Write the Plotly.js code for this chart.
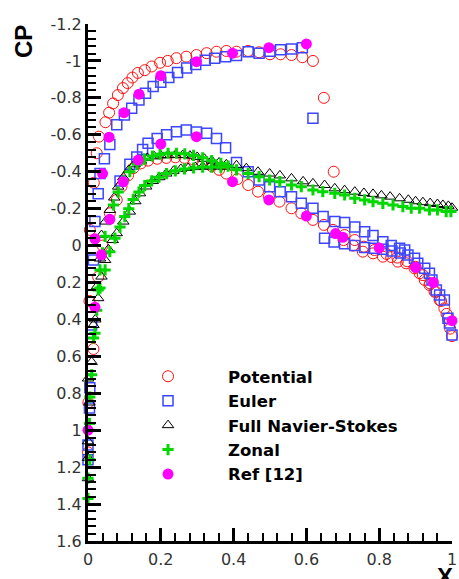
<!DOCTYPE html>
<html>
<head>
<meta charset="utf-8">
<script src="https://cdn.plot.ly/plotly-3.0.1.min.js"></script>
<style>
html,body{margin:0;padding:0;background:#fff;}
#chart{width:459px;height:579px;}
</style>
</head>
<body>
<div id="chart"></div>
<script>
// ---------- Data (x/c, Cp) ----------
// Potential
var potX = [0.000,0.001,0.004,0.005,0.016,0.024,0.030,0.048,0.058,0.069,0.082,0.096,0.109,0.122,0.137,0.156,0.175,0.198,0.219,0.243,0.270,0.298,0.326,0.353,0.380,0.408,0.440,0.470,0.500,0.529,0.559,0.589,0.618,0.648,0.675,0.702,0.728,0.755,0.783,0.810,0.833,0.851,0.874,0.897,0.911,0.925,0.938,0.952,0.966,0.979,0.989,1.000,
  0.015,0.028,0.040,0.060,0.079,0.092,0.110,0.125,0.145,0.165,0.190,0.215,0.240,0.265,0.290,0.315,0.340,0.360,0.380,0.410,0.440,0.467,0.497,0.526,0.559,0.586,0.618,0.648,0.673,0.705,0.733,0.758,0.787,0.820,0.850,0.877,0.900,0.920,0.940,0.955,0.970,0.985,0.995];
var potCp = [1.12,0.85,0.30,-0.085,-0.34,-0.50,-0.59,-0.668,-0.72,-0.77,-0.815,-0.853,-0.88,-0.91,-0.935,-0.95,-0.97,-0.99,-1.0,-1.015,-1.023,-1.032,-1.042,-1.05,-1.054,-1.05,-1.054,-1.047,-1.036,-1.036,-1.032,-1.02,-1.0,-0.80,-0.40,-0.03,0.0,0.033,0.042,0.06,0.062,0.087,0.096,0.123,0.15,0.186,0.213,0.25,0.295,0.34,0.394,0.49,
  0.56,0.17,0.0,-0.175,-0.247,-0.32,-0.38,-0.42,-0.445,-0.46,-0.47,-0.475,-0.478,-0.475,-0.465,-0.45,-0.43,-0.41,-0.39,-0.36,-0.328,-0.292,-0.265,-0.238,-0.202,-0.175,-0.139,-0.112,-0.085,-0.057,-0.03,0.006,0.024,0.045,0.065,0.085,0.115,0.16,0.205,0.25,0.30,0.37,0.45];

// Euler
var eulX = [0.000,0.000,0.004,0.005,0.010,0.015,0.019,0.028,0.033,0.045,0.060,0.079,0.100,0.120,0.140,0.158,0.179,0.200,0.222,0.246,0.271,0.296,0.322,0.348,0.378,0.408,0.440,0.470,0.500,0.529,0.559,0.589,0.618,0.650,0.676,0.705,0.733,0.760,0.786,0.810,0.835,0.858,
  0.088,0.115,0.134,0.150,0.165,0.190,0.216,0.243,0.270,0.298,0.326,0.353,0.378,0.408,0.440,0.470,0.499,0.528,0.559,0.586,0.618,0.646,0.678,0.705,0.733,0.760,0.783,0.810,0.833,0.856,0.870,0.879,0.897,0.906,0.925,0.938,0.945,0.957,0.966,0.979,0.989,0.993,1.000];
var eulCp = [1.16,1.08,0.88,0.77,0.43,0.078,-0.13,-0.28,-0.39,-0.47,-0.548,-0.655,-0.707,-0.744,-0.789,-0.825,-0.861,-0.885,-0.91,-0.938,-0.962,-0.98,-1.003,-1.015,-1.023,-1.029,-1.05,-1.042,-1.052,-1.06,-1.065,-1.072,-0.69,-0.04,-0.02,-0.01,0.0,0.01,0.015,0.02,0.03,0.04,
  -0.35,-0.44,-0.48,-0.52,-0.554,-0.58,-0.60,-0.617,-0.626,-0.615,-0.608,-0.58,-0.53,-0.45,-0.40,-0.355,-0.319,-0.292,-0.265,-0.229,-0.202,-0.157,-0.13,-0.125,-0.10,-0.075,-0.055,-0.021,0.0,0.015,0.024,0.051,0.069,0.096,0.123,0.15,0.186,0.24,0.268,0.295,0.394,0.42,0.485];

// Full Navier-Stokes
var fnsX = [0.000,0.000,0.000,0.004,0.000,0.010,0.015,0.025,0.033,
  0.037,0.048,0.060,0.072,0.083,0.097,0.112,0.128,0.145,0.163,0.182,0.200,0.220,0.240,0.260,0.280,0.300,0.320,0.340,0.360,0.380,
  0.408,0.435,0.467,0.499,0.527,0.559,0.591,0.618,0.650,0.678,0.705,0.733,0.758,0.783,0.806,0.830,0.856,0.880,0.900,0.920,0.940,0.960,0.975,0.990,1.000,
  0.020,0.028,0.037,0.047,0.056,0.068,0.079,0.097,0.115,0.130,0.143,0.160,0.178,0.196,0.215,0.235,0.255,0.275,0.295,0.315,0.335,0.355,0.375];
var fnsCp = [1.26,1.15,1.06,0.85,0.72,0.63,0.43,0.22,0.07,
  -0.057,-0.13,-0.193,-0.26,-0.319,-0.37,-0.41,-0.44,-0.46,-0.475,-0.483,-0.488,-0.49,-0.49,-0.49,-0.487,-0.48,-0.47,-0.46,-0.45,-0.44,
  -0.435,-0.419,-0.40,-0.39,-0.38,-0.364,-0.348,-0.337,-0.328,-0.31,-0.30,-0.292,-0.285,-0.28,-0.272,-0.265,-0.256,-0.248,-0.24,-0.235,-0.23,-0.225,-0.22,-0.215,-0.205,
  0.40,0.285,0.168,0.078,0.02,-0.03,-0.067,-0.13,-0.184,-0.24,-0.283,-0.32,-0.35,-0.37,-0.39,-0.405,-0.415,-0.42,-0.425,-0.428,-0.428,-0.428,-0.427];

// Zonal
var zonX = [0.000,0.000,0.005,0.004,0.005,0.010,0.015,0.019,
  0.024,0.028,0.033,0.040,0.047,0.058,0.070,0.083,0.098,0.115,0.135,0.155,0.177,0.198,0.220,0.243,0.266,0.290,0.315,0.340,0.365,0.385,
  0.408,0.440,0.470,0.499,0.527,0.559,0.586,0.618,0.645,0.678,0.705,0.733,0.760,0.783,0.810,0.838,0.865,0.888,0.911,0.938,0.960,0.984,0.997,
  0.033,0.047,0.060,0.074,0.088,0.101,0.112,0.124,0.140,0.156,0.175,0.195,0.216,0.240,0.265,0.290,0.315,0.340,0.365];
var zonCp = [1.37,1.26,1.16,0.963,0.82,0.70,0.50,0.475,
  0.35,0.24,0.132,0.04,-0.05,-0.14,-0.22,-0.29,-0.35,-0.40,-0.44,-0.468,-0.485,-0.495,-0.50,-0.50,-0.497,-0.488,-0.475,-0.46,-0.445,-0.43,
  -0.41,-0.39,-0.373,-0.355,-0.346,-0.328,-0.319,-0.301,-0.292,-0.283,-0.274,-0.256,-0.247,-0.238,-0.229,-0.22,-0.211,-0.202,-0.202,-0.193,-0.193,-0.184,-0.184,
  0.23,0.132,0.033,-0.04,-0.10,-0.157,-0.20,-0.25,-0.29,-0.325,-0.35,-0.37,-0.39,-0.405,-0.415,-0.42,-0.425,-0.425,-0.425];

// Ref [12]
var refX = [0.000,0.019,0.037,0.019,0.040,0.058,0.099,0.140,0.200,0.298,0.397,0.497,0.600,
  0.060,0.097,0.138,0.200,0.298,0.397,0.497,0.600,0.680,0.700,0.800,0.900,0.949,1.000];
var refCp = [1.0,0.334,0.05,-0.037,-0.39,-0.587,-0.72,-0.82,-0.92,-0.996,-1.042,-1.072,-1.092,
  -0.142,-0.346,-0.463,-0.55,-0.59,-0.346,-0.247,-0.16,-0.065,-0.045,0.013,0.118,0.20,0.407];

// Axis ticks
var xTickVals = [0, 0.2, 0.4, 0.6, 0.8, 1];
var xTickText = ["0", "0.2", "0.4", "0.6", "0.8", "1"];
var yTickVals = [-1.2, -1, -0.8, -0.6, -0.4, -0.2, 0, 0.2, 0.4, 0.6, 0.8, 1, 1.2, 1.4, 1.6];
var yTickText = ["-1.2", "-1", "-0.8", "-0.6", "-0.4", "-0.2", "0", "0.2", "0.4", "0.6", "0.8", "1", "1.2", "1.4", "1.6"];

var seriesNames = ["Potential", "Euler", "Full Navier-Stokes", "Zonal", "Ref [12]"];

// ---------- Traces ----------
function sc(x, y, name, marker) {
  return {type: 'scatter', mode: 'markers', x: x, y: y, name: name, cliponaxis: false, marker: marker};
}
var traces = [
  sc(potX, potCp, seriesNames[0], {symbol: 'circle-open', size: 11, color: '#ff1010', line: {width: 1, color: '#ff1010'}}),
  sc(eulX, eulCp, seriesNames[1], {symbol: 'square-open', size: 10, color: '#3c46ff', line: {width: 1.5, color: '#3c46ff'}}),
  sc(fnsX, fnsCp, seriesNames[2], {symbol: 'triangle-up-open', size: 10, color: '#000000', line: {width: 1, color: '#000000'}}),
  sc(zonX, zonCp, seriesNames[3], {symbol: 'cross-thin-open', size: 8, color: '#00d800', line: {width: 3, color: '#00d800'}}),
  sc(refX, refCp, seriesNames[4], {symbol: 'circle', size: 11, color: '#ff00ff', line: {width: 0}})
];

var axisCommon = {
  showline: true, linewidth: 3, linecolor: '#000', mirror: false,
  showgrid: false, zeroline: false,
  ticks: 'inside', ticklen: 13, tickwidth: 3, tickcolor: '#000',
  tickmode: 'array',
  tickfont: {family: 'DejaVu Sans', size: 16, color: '#333'},
  automargin: false
};

var layout = {
  width: 459, height: 579,
  margin: {l: 88, r: 7, t: 24, b: 38},
  paper_bgcolor: '#fff', plot_bgcolor: '#fff',
  showlegend: true,
  xaxis: Object.assign({}, axisCommon, {
    range: [0, 1], tickvals: xTickVals, ticktext: xTickText, ticklabelstandoff: 2,
    minor: {ticks: 'inside', ticklen: 8, tickwidth: 2, tickcolor: '#000', dtick: 0.04, tick0: 0, showgrid: false}
  }),
  yaxis: Object.assign({}, axisCommon, {
    range: [1.6, -1.2], tickvals: yTickVals, ticktext: yTickText,
    minor: {ticks: 'inside', ticklen: 8, tickwidth: 2, tickcolor: '#000', dtick: 0.04, tick0: 0, showgrid: false}
  }),
  legend: {
    x: 0.055, y: 0.352, xanchor: 'left', yanchor: 'top',
    bgcolor: 'rgba(0,0,0,0)', borderwidth: 0,
    itemwidth: 110,
    font: {family: 'DejaVu Sans', size: 16.5, color: '#000', weight: 700}
  },
  annotations: [
    {text: 'CP', xref: 'paper', yref: 'paper', x: -0.1758, y: 0.9652, showarrow: false,
     textangle: -90, xanchor: 'center', yanchor: 'middle',
     font: {family: 'Liberation Sans', size: 24, color: '#000', weight: 700}},
    {text: 'X', xref: 'paper', yref: 'paper', x: 0.981, y: -0.0677, showarrow: false,
     xanchor: 'center', yanchor: 'middle',
     font: {family: 'Liberation Sans', size: 24, color: '#000', weight: 700}}
  ]
};

Plotly.newPlot('chart', traces, layout, {displayModeBar: false, staticPlot: true});
</script>
</body>
</html>
